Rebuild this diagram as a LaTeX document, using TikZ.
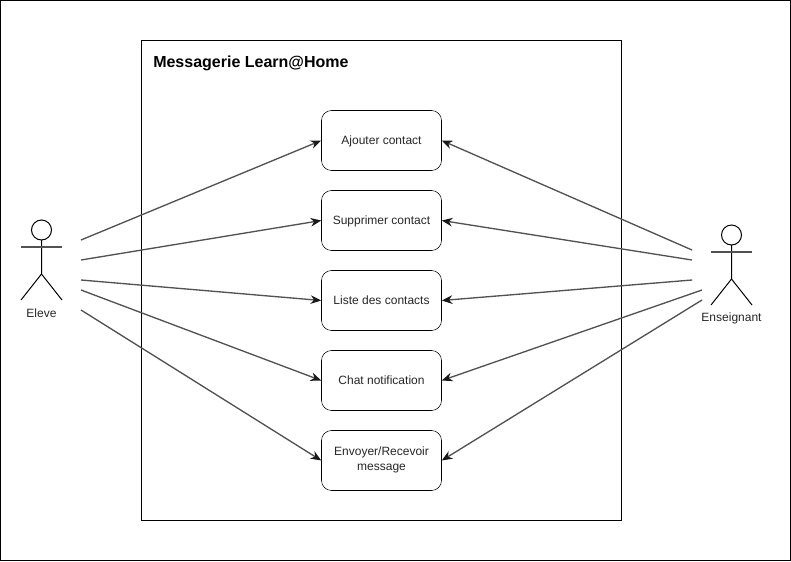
\documentclass[tikz,border=0pt]{standalone}
\usepackage{fontspec}
\setmainfont{Liberation Sans}
\usetikzlibrary{arrows.meta}
\tikzset{
	usecase/.style={draw,rounded corners=7.5pt,minimum width=90pt,minimum height=45pt,align=center,font=\fontsize{9}{11.25}\selectfont,inner sep=1pt,text=black!85,execute at begin node={\rule{0pt}{9.4pt}},execute at end node=\strut},
	actorlabel/.style={font=\fontsize{9}{11}\selectfont,inner sep=0pt,text=black!85},
	assoc/.style={-{Stealth[length=8pt,width=6.5pt,color=black!90]},color=black!68,line width=1pt},
	actorline/.style={line width=.75pt}
}
\begin{document}
\begin{tikzpicture}[x=.75pt,y=-.75pt]
	\useasboundingbox (0,0) rectangle (791,561);
	\draw[line width=.75pt] (.5,.5) rectangle (790.5,560.5);
	\draw[line width=.75pt] (141.5,40.5) rectangle (621.5,520.5);
	\node[anchor=west,inner sep=0pt,font=\bfseries\fontsize{12}{14}\selectfont] (title) at (153,63) {Messagerie Learn@Home};
	% Use cases
	\node[usecase] (ajouter) at (381.5,140.5) {Ajouter contact};
	\node[usecase] (supprimer) at (381.5,220.5) {Supprimer contact};
	\node[usecase] (liste) at (381.5,300.5) {Liste des contacts};
	\node[usecase] (chat) at (381.5,380.5) {Chat notification};
	\node[usecase] (envoyer) at (381.5,460.5) {Envoyer/Recevoir\\message};
	% Actor left
	\draw[actorline] (41.5,230) circle (10);
	\draw[actorline] (41.5,240) -- (41.5,274) (21,300) -- (41.5,274) -- (62,300);
	\draw[line width=1pt,color=black!68] (21,247) -- (62,247);
	\node[actorlabel] (eleve) at (41.5,313.5) {Eleve};
	% Actor right
	\draw[actorline] (731.5,235) circle (10);
	\draw[actorline] (731.5,245) -- (731.5,279) (711,305) -- (731.5,279) -- (752,305);
	\draw[line width=1pt,color=black!68] (711,252) -- (752,252);
	\node[actorlabel] (enseignant) at (731.5,318.5) {Enseignant};
	% Free ends of the connectors
	\coordinate (e1) at (81,240);
	\coordinate (e2) at (81,260);
	\coordinate (e3) at (81,280);
	\coordinate (e4) at (81,290);
	\coordinate (e5) at (81,310);
	\coordinate (p1) at (692,250);
	\coordinate (p2) at (692,260);
	\coordinate (p3) at (692,280);
	\coordinate (p4) at (702,290);
	\coordinate (p5) at (702,300);
	% Connectors
	\foreach \u/\i in {ajouter/1,supprimer/2,liste/3,chat/4,envoyer/5}{
		\draw[assoc] (e\i) -- (\u.west);
		\draw[assoc] (p\i) -- (\u.east);
	}
\end{tikzpicture}
\end{document}
